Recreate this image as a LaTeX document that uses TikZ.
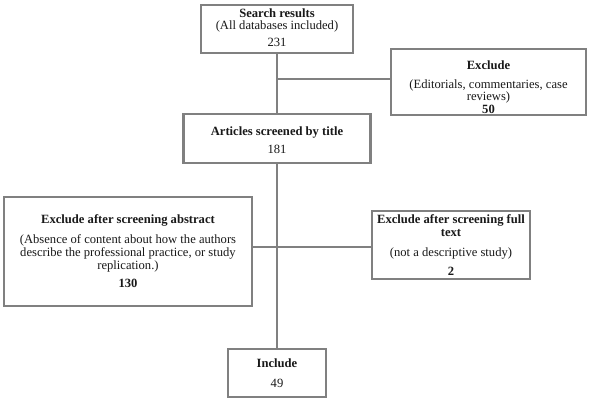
\documentclass[tikz,border=0pt]{standalone}
\usepackage{fontspec}
\setmainfont{Liberation Serif}
\definecolor{boxgray}{RGB}{128,128,128}
\tikzset{
  box/.style={draw=boxgray, line width=2.4pt, rectangle, inner sep=0pt, fill=white},
  txt/.style={align=center, inner sep=0pt, font=\fontsize{12.6}{12.8}\selectfont, text=black!90},
  conn/.style={draw=boxgray, line width=1.8pt}
}
\begin{document}
\begin{tikzpicture}[x=1pt,y=-1pt]
\useasboundingbox (0,0) rectangle (590,408);
% boxes
\node[box, minimum width=152pt, minimum height=48pt] (b1) at (277,29) {};
\node[box, minimum width=195pt, minimum height=66pt] (exc) at (488.5,82) {};
\node[box, minimum width=187pt, minimum height=49pt] (b2) at (277,138.5) {};
\node[box, minimum width=248pt, minimum height=109pt] (abs) at (128,251.5) {};
\node[box, minimum width=158pt, minimum height=68pt] (full) at (451,245) {};
\node[box, minimum width=98pt, minimum height=48pt] (inc) at (277,373) {};
% junctions
\coordinate (j1) at (277,79);
\coordinate (j2) at (277,247);
% connectors
\draw[conn] (b1.south) -- (b2.north);
\draw[conn] (j1) -- (j1 -| exc.west);
\draw[conn] (b2.south) -- (inc.north);
\draw[conn] (j2 -| abs.east) -- (j2 -| full.west);
% texts
\node[txt] (t1) at (277,27.5) {\textbf{Search results}\\[-0.5pt](All databases included)\\[4pt]231};
\node[txt] (texc) at (488.5,87) {\textbf{Exclude}\\[6pt](Editorials, commentaries, case\\[-1pt]reviews)\\[0pt]\textbf{50}};
\node[txt] (t2) at (277,140) {\textbf{Articles screened by title}\\[5pt]181};
\node[txt] (tabs) at (128,251.5) {\textbf{Exclude after screening abstract}\\[7pt](Absence of content about how the authors\\[0pt]describe the professional practice, or study\\[0pt]replication.)\\[6pt]\textbf{130}};
\node[txt] (tfull) at (451,245) {\textbf{Exclude after screening full}\\[0pt]\textbf{text}\\[7pt](not a descriptive study)\\[6pt]\textbf{2}};
\node[txt] (tinc) at (277,373) {\textbf{Include}\\[7pt]49};
\end{tikzpicture}
\end{document}
